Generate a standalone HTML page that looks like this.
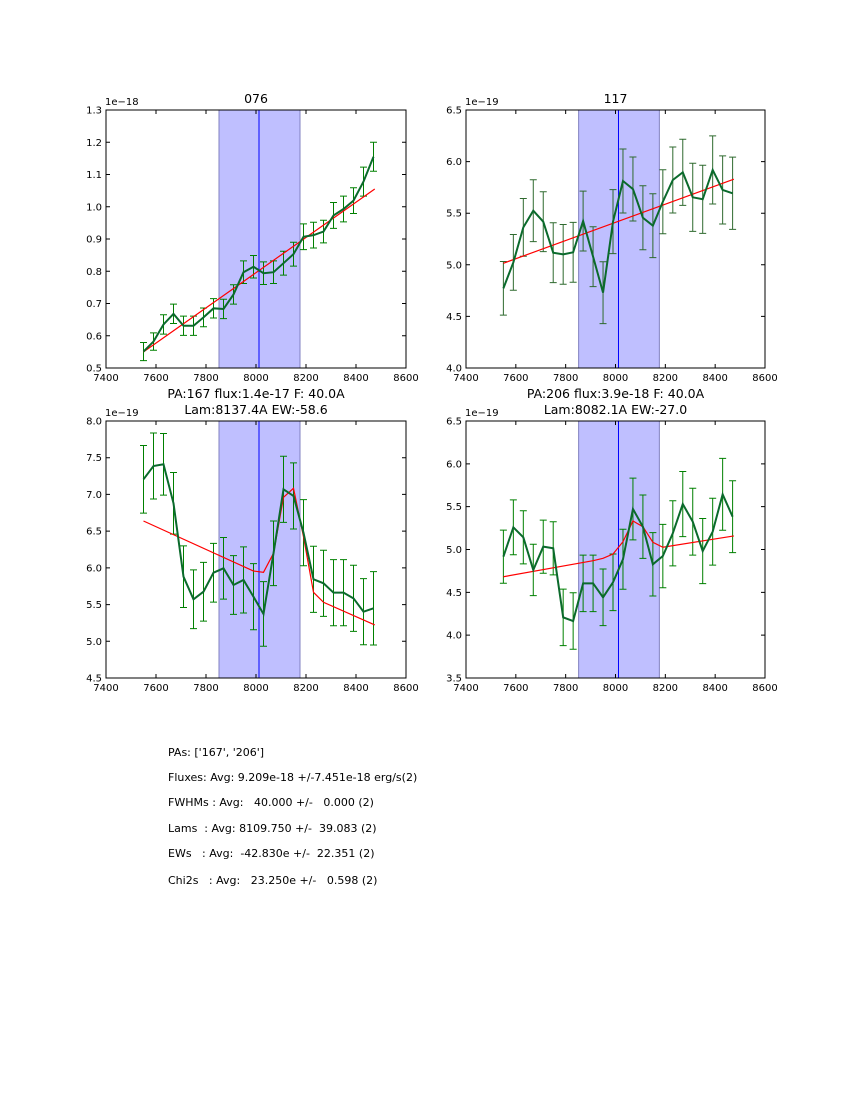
<!DOCTYPE html>
<html><head><meta charset="utf-8"><style>
body{margin:0;background:#fff;}
svg{display:block;font-family:"DejaVu Sans","Liberation Sans",sans-serif;}
</style></head><body>
<svg id="fig" width="850" height="1100" xmlns="http://www.w3.org/2000/svg">
<rect width="850" height="1100" fill="#fff"/>
<g font-size="11" fill="#000" style="white-space:pre">
<text x="168" y="756" xml:space="preserve">PAs: ['167', '206']</text>
<text x="168" y="781" xml:space="preserve">Fluxes: Avg: 9.209e-18 +/-7.451e-18 erg/s(2)</text>
<text x="168" y="806" xml:space="preserve">FWHMs : Avg:   40.000 +/-   0.000 (2)</text>
<text x="168" y="832" xml:space="preserve">Lams  : Avg: 8109.750 +/-  39.083 (2)</text>
<text x="168" y="857" xml:space="preserve">EWs   : Avg:  -42.830e +/-  22.351 (2)</text>
<text x="168" y="884" xml:space="preserve">Chi2s   : Avg:   23.250e +/-   0.598 (2)</text>
</g>
</svg>
<script>
// shared x grid
const waves = [7550,7590,7630,7670,7710,7750,7790,7830,7870,7910,7950,7990,8030,8070,8110,8150,8190,8230,8270,8310,8350,8390,8430,8470];
const xTicks = [7400,7600,7800,8000,8200,8400,8600];
const bandLo = 7852, bandHi = 8176, lineCenter = 8012;

// panel 076
const flux076 = [0.551,0.582,0.635,0.668,0.631,0.631,0.657,0.685,0.683,0.728,0.797,0.814,0.794,0.797,0.825,0.853,0.907,0.912,0.923,0.973,0.993,1.019,1.078,1.155];
const err076 = [0.028,0.027,0.03,0.03,0.03,0.03,0.029,0.03,0.03,0.03,0.035,0.035,0.035,0.035,0.037,0.037,0.04,0.04,0.035,0.04,0.04,0.04,0.045,0.045];
const fitX076 = [7550,8475];
const fitY076 = [0.55,1.055];
const yTicks076 = [0.5,0.6,0.7,0.8,0.9,1.0,1.1,1.2,1.3];

// panel 117
const flux117 = [4.772,5.023,5.363,5.524,5.418,5.117,5.101,5.121,5.424,5.079,4.73,5.418,5.812,5.734,5.456,5.379,5.611,5.822,5.896,5.654,5.635,5.919,5.725,5.693];
const err117 = [0.26,0.27,0.28,0.3,0.29,0.29,0.29,0.29,0.29,0.29,0.3,0.31,0.31,0.31,0.31,0.31,0.31,0.32,0.32,0.33,0.33,0.33,0.33,0.35];
const fitX117 = [7550,8475];
const fitY117 = [5.015,5.83];
const yTicks117 = [4.0,4.5,5.0,5.5,6.0,6.5];

// panel PA167
const flux167 = [7.206,7.387,7.41,6.879,5.88,5.572,5.675,5.934,5.994,5.767,5.835,5.607,5.372,6.198,7.07,6.979,6.479,5.844,5.79,5.662,5.662,5.585,5.403,5.449];
const err167 = [0.46,0.45,0.42,0.42,0.42,0.4,0.4,0.4,0.42,0.4,0.45,0.45,0.44,0.44,0.45,0.45,0.45,0.45,0.45,0.45,0.45,0.45,0.45,0.5];
const fitX167 = [7550,7990,8030,8070,8110,8150,8190,8230,8270,8475];
const fitY167 = [6.638,5.957,5.939,6.198,6.961,7.084,6.424,5.667,5.531,5.222];
const yTicks167 = [4.5,5.0,5.5,6.0,6.5,7.0,7.5,8.0];

// panel PA206
const flux206 = [4.916,5.259,5.142,4.761,5.033,5.014,4.208,4.165,4.605,4.605,4.442,4.617,4.886,5.473,5.266,4.827,4.924,5.189,5.531,5.325,4.982,5.208,5.644,5.383];
const err206 = [0.31,0.32,0.31,0.3,0.31,0.31,0.33,0.33,0.33,0.33,0.33,0.33,0.35,0.36,0.37,0.37,0.37,0.38,0.38,0.39,0.38,0.39,0.42,0.42];
const fitX206 = [7550,7910,7950,7990,8030,8070,8110,8150,8190,8475];
const fitY206 = [4.682,4.869,4.897,4.947,5.091,5.333,5.266,5.084,5.026,5.158];
const yTicks206 = [3.5,4.0,4.5,5.0,5.5,6.0,6.5];

const NS = "http://www.w3.org/2000/svg";
const svg = document.getElementById('fig');
function el(tag, attrs, parent){const e=document.createElementNS(NS,tag);for(const k in attrs)e.setAttribute(k,attrs[k]);(parent||svg).appendChild(e);return e;}

function panel(cfg){
  const {L,T,W,H,ymin,ymax,yTicks,flux,err,fitX,fitY,expo,titles,name,errColor}=cfg;
  const g = el('g',{});
  
  
  const xs = v => L + (v-7400)/(1200)*W;
  const ys = v => T + H - (v-ymin)/(ymax-ymin)*H;
  const band = el('rect',{x:xs(bandLo),y:T,width:xs(bandHi)-xs(bandLo),height:H,fill:'#bfbfff',stroke:'#8080c0','stroke-width':1},g);
  
  
  const vl = el('line',{x1:xs(lineCenter),x2:xs(lineCenter),y1:T,y2:T+H,stroke:'#0000ff','stroke-width':1},g);
  
  
  for(let i=0;i<waves.length;i++){
    const x=xs(waves[i]), y1=ys(flux[i]-err[i]), y2=ys(flux[i]+err[i]);
    const eb = el('path',{d:`M${x},${y1}V${y2}M${x-3.5},${y1}H${x+3.5}M${x-3.5},${y2}H${x+3.5}`,stroke:errColor,'stroke-width':1,fill:'none'},g);
    
    
  }
  const fit = el('polyline',{points:fitX.map((v,i)=>xs(v)+','+ys(fitY[i])).join(' '),stroke:'#ff0000','stroke-width':1.2,fill:'none'},g);
  
  
  const sp = el('polyline',{points:waves.map((v,i)=>xs(v)+','+ys(flux[i])).join(' '),stroke:'#0b6a2c','stroke-width':2,fill:'none'},g);
  
  
  const fr = el('rect',{x:L,y:T,width:W,height:H,fill:'none',stroke:'#000','stroke-width':1},g);
  
  
  xTicks.forEach(v=>{
    const x=xs(v);
    el('path',{d:`M${x},${T+H}v-4M${x},${T}v4`,stroke:'#000','stroke-width':1},g);
    const t=el('text',{x:x,y:T+H+13,'font-size':10,'text-anchor':'middle'},g);
    t.textContent=v;
    
    
  });
  yTicks.forEach(v=>{
    const y=ys(v);
    el('path',{d:`M${L},${y}h4M${L+W},${y}h-4`,stroke:'#000','stroke-width':1},g);
    const t=el('text',{x:L-4,y:y+3.5,'font-size':10,'text-anchor':'end'},g);
    t.textContent=v.toFixed(1);
    
    
  });
  const ex=el('text',{x:L-1,y:T-5,'font-size':10},g);
  ex.textContent=expo;
  
  
  titles.forEach((s,i)=>{
    const t=el('text',{x:L+W/2,y:T-7-(titles.length-1-i)*16,'font-size':12.5,'text-anchor':'middle'},g);
    t.textContent=s;
    
    
  });
}

panel({name:'panel-076',L:106,T:110,W:300,H:258,ymin:0.5,ymax:1.3,yTicks:yTicks076,flux:flux076,err:err076,fitX:fitX076,fitY:fitY076,expo:'1e\u221218',titles:['076'],errColor:'#008000'});
panel({name:'panel-117',L:466,T:110,W:299,H:258,ymin:4.0,ymax:6.5,yTicks:yTicks117,flux:flux117,err:err117,fitX:fitX117,fitY:fitY117,expo:'1e\u221219',titles:['117'],errColor:'#2f6a2f'});
panel({name:'panel-pa167',L:106,T:421,W:300,H:257,ymin:4.5,ymax:8.0,yTicks:yTicks167,flux:flux167,err:err167,fitX:fitX167,fitY:fitY167,expo:'1e\u221219',titles:['PA:167 flux:1.4e-17 F: 40.0A','Lam:8137.4A EW:-58.6'],errColor:'#008000'});
panel({name:'panel-pa206',L:466,T:421,W:299,H:257,ymin:3.5,ymax:6.5,yTicks:yTicks206,flux:flux206,err:err206,fitX:fitX206,fitY:fitY206,expo:'1e\u221219',titles:['PA:206 flux:3.9e-18 F: 40.0A','Lam:8082.1A EW:-27.0'],errColor:'#008000'});
</script>
</body></html>
